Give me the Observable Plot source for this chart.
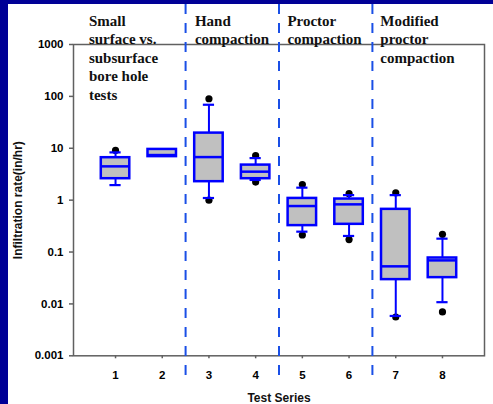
<!DOCTYPE html>
<html><head><meta charset="utf-8">
<script src="https://cdn.jsdelivr.net/npm/d3@7"></script>
<script src="https://cdn.jsdelivr.net/npm/@observablehq/plot@0.6"></script>
<style>
html,body{margin:0;padding:0;background:#fff;width:493px;height:404px;overflow:hidden;}
#frame{position:absolute;left:0;top:0;width:493px;height:404px;box-sizing:border-box;border-left:8px solid #000096;border-top:4px solid #000096;background:#fff;}
#frame svg{display:block;}
</style></head><body><div id="frame"></div>
<script>
// Test series (categories)
const series = [1, 2, 3, 4, 5, 6, 7, 8];
// Box statistics (in/hr)
const q1 = [2.59, 6.9, 2.27, 2.59, 0.323, 0.342, 0.0294, 0.0321];
const median = [4.48, 7.4, 6.76, 3.54, 0.77, 0.83, 0.053, 0.069];
const q3 = [6.58, 9.5, 19.6, 4.74, 1.08, 1.05, 0.665, 0.0768];
const whiskerLow = [1.95, null, 1.1, 2.45, 0.247, 0.204, 0.00586, 0.0108];
const whiskerHigh = [8.33, null, 69, 6.46, 1.74, 1.25, 1.25, 0.181];
const outlierHigh = [9.1, null, 90, 7.2, 2.0, 1.33, 1.39, 0.219];
const outlierLow = [null, null, 1.0, 2.23, 0.213, 0.174, 0.0056, 0.007];

// Group annotations and dividers
const groupLabels = ["Small\nsurface vs.\nsubsurface\nbore hole\ntests", "Hand\ncompaction", "Proctor\ncompaction", "Modified\nproctor\ncompaction"];
const groupLabelX = [0.43, 2.7, 4.68, 6.67];
const dividers = [2.5, 4.5, 6.5];

// Ticks
const yTicks = [0.001, 0.01, 0.1, 1, 10, 100, 1000];
const yTickLabels = ["0.001", "0.01", "0.1", "1", "10", "100", "1000"];
const xTicks = [1, 2, 3, 4, 5, 6, 7, 8];
const xTickLabels = ["1", "2", "3", "4", "5", "6", "7", "8"];
const xTitle = "Test Series";
const yTitle = "Infiltration rate(in/hr)";

const boxes = series.map((s, i) => ({s, q1: q1[i], med: median[i], q3: q3[i], lo: whiskerLow[i], hi: whiskerHigh[i]}));
const whiskers = boxes.filter(d => d.lo != null);
const caps = whiskers.flatMap(d => [{s: d.s, v: d.lo}, {s: d.s, v: d.hi}]);
const outliers = series.flatMap((s, i) => [outlierHigh[i], outlierLow[i]].filter(v => v != null).map(v => ({s, v})));

const half = 0.305, capHalf = 0.12;
const blue = "#0000ff", axisGray = "#606060";

const chart = Plot.plot({
  width: 485, height: 400,
  marginLeft: 65, marginRight: 9, marginTop: 40, marginBottom: 48.7,
  style: {fontFamily: "'Liberation Sans', Arial, sans-serif", fontSize: "11.5px", fontWeight: "bold", background: "white", color: "black", overflow: "visible"},
  x: {type: "linear", domain: [0.1, 8.9]},
  y: {type: "log", domain: [0.001, 1000]},
  marks: [
    Plot.frame({stroke: axisGray, strokeWidth: 1.5}),
    Plot.axisY({ticks: yTicks, tickFormat: d => yTickLabels[yTicks.indexOf(d)], tickSize: 4, tickPadding: 6, stroke: axisGray, strokeWidth: 1.5, fill: "black", label: null}),
    Plot.axisX({ticks: xTicks, tickFormat: d => xTickLabels[xTicks.indexOf(d)], tickSize: 3, tickPadding: 12, stroke: axisGray, strokeWidth: 1.5, fill: "black", label: null}),
    Plot.ruleX(dividers, {x: d => d, stroke: "#1a4fe6", strokeWidth: 2, strokeDasharray: "10,9", insetTop: -40, insetBottom: -26.4}),
    Plot.dot(outliers, {x: "s", y: "v", r: 3.6, fill: "black"}),
    Plot.ruleX(whiskers, {x: "s", y1: "lo", y2: "hi", stroke: blue, strokeWidth: 2}),
    Plot.ruleY(caps, {y: "v", x1: d => d.s - capHalf, x2: d => d.s + capHalf, stroke: blue, strokeWidth: 2.2}),
    Plot.rect(boxes, {x1: d => d.s - half, x2: d => d.s + half, y1: "q1", y2: "q3", fill: "#c0c0c0", stroke: blue, strokeWidth: 2.5}),
    Plot.ruleY(boxes, {y: "med", x1: d => d.s - half, x2: d => d.s + half, stroke: blue, strokeWidth: 2.5}),
    Plot.text(groupLabels, {text: d => d, x: (d, i) => groupLabelX[i], frameAnchor: "top", textAnchor: "start", lineAnchor: "top", lineHeight: 1.233, dy: -32, fontFamily: "'Liberation Serif', 'Times New Roman', serif", fontSize: 15, fontWeight: "bold", fill: "#111"}),
    Plot.text([yTitle], {text: d => d, frameAnchor: "left", rotate: -90, dx: -55.5, fontSize: 12, fontWeight: "bold", textAnchor: "middle", lineAnchor: "middle", fill: "#111"}),
    Plot.text([xTitle], {text: d => d, frameAnchor: "bottom", dy: 42.4, fontSize: 12, fontWeight: "bold", textAnchor: "middle", lineAnchor: "middle", fill: "#111"})
  ]
});
document.getElementById("frame").appendChild(chart);
</script>
</body></html>
